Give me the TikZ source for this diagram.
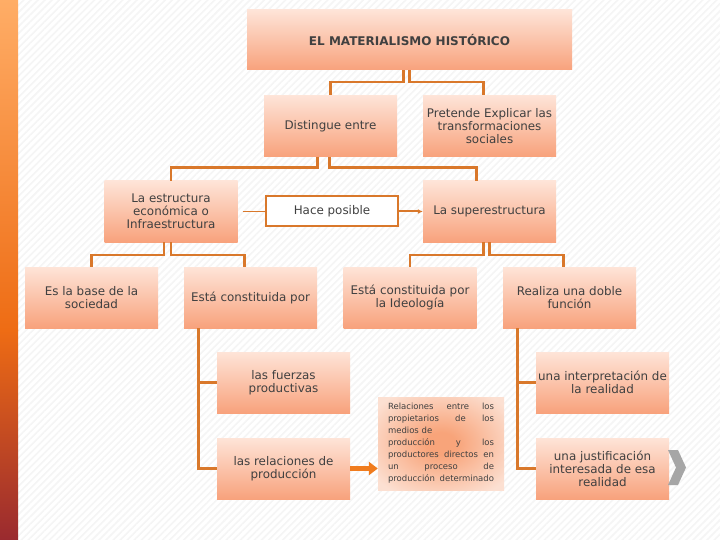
\documentclass[tikz,border=0pt]{standalone}
\usepackage{fontspec}
\setmainfont{DejaVu Sans}
\usetikzlibrary{arrows.meta,patterns.meta}

\definecolor{boxtop}{HTML}{FEE4D8}
\definecolor{boxbot}{HTML}{F8A27C}
\definecolor{linkc}{HTML}{D9782B}
\definecolor{arrowc}{HTML}{F07C1E}
\definecolor{txtc}{HTML}{404040}
\definecolor{bartop}{HTML}{FFAD66}
\definecolor{barmid}{HTML}{EE6C14}
\definecolor{barbot}{HTML}{9A2A2F}
\definecolor{notain}{HTML}{F8A47A}
\definecolor{notaout}{HTML}{FCE0D2}

\pgfdeclareradialshading{notashade}{\pgfpoint{0bp}{0bp}}{%
  color(0bp)=(notain); color(6bp)=(notain); color(32bp)=(notaout); color(50bp)=(notaout)}

\tikzset{
  concepto/.style={rectangle, minimum width=133pt, minimum height=61pt,
    top color=boxtop, bottom color=boxbot, align=center, text=txtc,
    font=\fontsize{11.9}{13}\selectfont, inner sep=2pt},
  enlace/.style={draw=linkc, line width=2.5pt},
}

\begin{document}
\begin{tikzpicture}[x=1pt,y=-1pt]

% Fondo
\useasboundingbox (0,0) rectangle (720,540);
\fill[white] (0,0) rectangle (720,540);
\fill[pattern={Lines[angle=45,distance=5pt,line width=1.6pt]}, pattern color=black!4]
  (18,0) rectangle (720,540);

% Barra lateral
\shade[top color=bartop, bottom color=barmid] (0,0) rectangle (18,330);
\shade[top color=barmid, bottom color=barbot] (0,330) rectangle (18,540);

% Conceptos
\node[concepto, minimum width=325pt, minimum height=60pt,
  font=\bfseries\fontsize{12}{13}\selectfont] (titulo) at (409.5,40) {EL MATERIALISMO HISTÓRICO};
\node[concepto] (distingue) at (330.5,126) {Distingue entre};
\node[concepto] (pretende) at (489.5,126) {Pretende Explicar las\\transformaciones\\sociales};
\node[concepto] (infra) at (171,211.5) {La estructura\\económica o\\Infraestructura};
\node[concepto] (supra) at (489.5,211.5) {La superestructura};
\node[draw=linkc, line width=2pt, fill=white, minimum width=132pt, minimum height=30pt,
  text=txtc, font=\fontsize{11.9}{13}\selectfont] (hace) at (332,211.5) {Hace posible};
\node[concepto] (base) at (91.5,297.5) {Es la base de la\\sociedad};
\node[concepto] (constit) at (250.5,297.5) {Está constituida por};
\node[concepto] (ideol) at (410,297.5) {Está constituida por\\la Ideología};
\node[concepto] (doble) at (569.5,297.5) {Realiza una doble\\función};
\node[concepto] (fuerzas) at (283.5,382.5) {las fuerzas\\productivas};
\node[concepto] (relprod) at (283.5,468.5) {las relaciones de\\producción};
\node[concepto] (interp) at (602.5,382.5) {una interpretación de\\la realidad};
\node[concepto] (justif) at (602.5,468.5) {una justificación\\interesada de esa\\realidad};

% Nota
\begin{scope}[y=1pt]
\shade[shading=notashade] (378,-397) rectangle (504,-490);
\end{scope}
\node[minimum width=126pt, minimum height=93pt, inner sep=0pt,
  text=txtc, text width=106pt, align=left,
  font=\fontsize{8.5}{12}\selectfont] (nota) at (441,443.5)
  {\makebox[106pt]{Relaciones\hfill entre\hfill los}\\
   \makebox[106pt]{propietarios\hfill de\hfill los}\\
   medios de\\
   \makebox[106pt]{producción\hfill y\hfill los}\\
   \makebox[106pt]{productores\hfill directos\hfill en}\\
   \makebox[106pt]{un\hfill proceso\hfill de}\\
   \makebox[106pt]{producción\hfill determinado}};

% Conectores
\draw[enlace] ([xshift=-6pt]titulo.south) -- ++(0,12) -| (distingue.north);
\draw[enlace] (titulo.south) -- ++(0,12) -| ([xshift=-6pt]pretende.north);
\draw[enlace] ([xshift=-13pt]distingue.south) -- ++(0,11) -| (infra.north);
\draw[enlace] ([xshift=-1pt]distingue.south) -- ++(0,11) -| ([xshift=-13pt]supra.north);
\draw[enlace] ([xshift=-7pt]infra.south) -- ++(0,13) -| (base.north);
\draw[enlace] (infra.south) -- ++(0,13) -| ([xshift=-6pt]constit.north);
\draw[enlace] ([xshift=-6pt]supra.south) -- ++(0,13) -| (ideol.north);
\draw[enlace] (supra.south) -- ++(0,13) -| ([xshift=-6pt]doble.north);
\draw[enlace] ([xshift=-52pt]constit.south) |- (fuerzas.west);
\draw[enlace] ([xshift=-52pt]constit.south) |- (relprod.west);
\draw[enlace] ([xshift=-52pt]doble.south) |- (interp.west);
\draw[enlace] ([xshift=-52pt]doble.south) |- (justif.west);
\draw[draw=linkc, line width=1.2pt] ([xshift=5pt]infra.east) -- (hace.west);
\draw[draw=linkc, line width=2pt, -{Latex[length=5pt,width=5pt]}] (hace.east) -- (supra.west);
\draw[draw=arrowc, line width=5pt, -{Triangle[length=9pt,width=13pt]}]
  (relprod.east) -- (relprod.east -| nota.west);

% Flecha gris
\fill[black!35] (668,450) -- (678,450) -- (686,467.5) -- (678,485) -- (668,485) -- (676,467.5) -- cycle;

\end{tikzpicture}
\end{document}
